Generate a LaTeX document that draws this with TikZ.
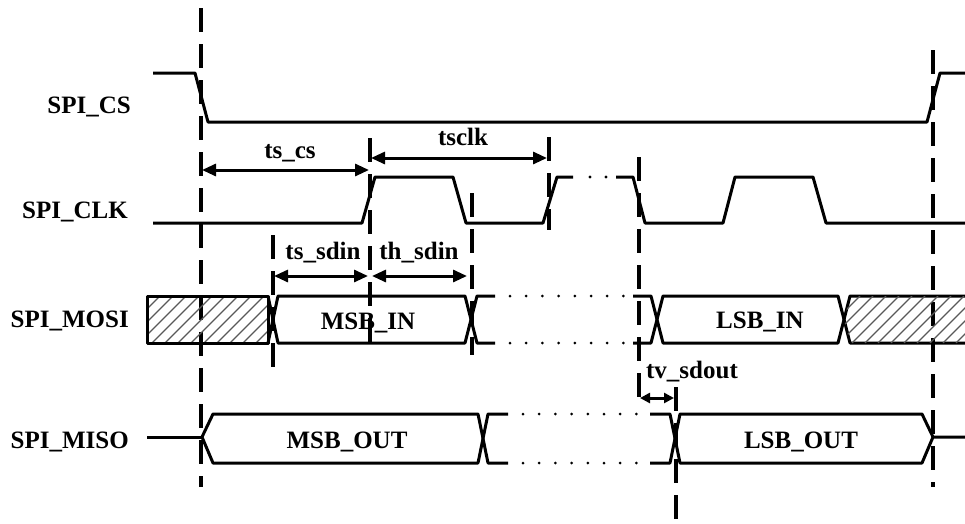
\documentclass[tikz,border=0pt]{standalone}
\usepackage{fontspec}
\setmainfont{Liberation Serif}
\usetikzlibrary{arrows.meta}
\begin{document}
\begin{tikzpicture}[x=1pt,y=-1pt,
  sig/.style={line width=3pt, line join=round},
  vdash/.style={line width=3.2pt, dash pattern=on 24pt off 12pt},
  dim/.style={line width=3pt, {Triangle[length=14pt,width=12pt]}-{Triangle[length=14pt,width=12pt]}},
  dimsmall/.style={line width=3pt, {Triangle[length=10pt,width=10pt]}-{Triangle[length=10pt,width=10pt]}},
  lbl/.style={font=\fontsize{25}{30}\selectfont\bfseries, inner sep=0pt, anchor=base},
  sname/.style={lbl, anchor=base east},
  dotline/.style={line width=3pt, dash pattern=on 0pt off 16.2pt, line cap=round},
  hatch/.style={line width=1.3pt, black!65}]
\useasboundingbox (0,0) rectangle (965,523);

% signal names
\node[sname] (ncs)   at (131,113) {SPI\_CS};
\node[sname] (nclk)  at (128,218) {SPI\_CLK};
\node[sname] (nmosi) at (129,327) {SPI\_MOSI};
\node[sname] (nmiso) at (129,448) {SPI\_MISO};

% vertical dashed reference lines
\draw[vdash] (201,8) -- (201,487);
\draw[vdash] (933,50) -- (933,487);
\draw[vdash] (370,138) -- (370,352);
\draw[vdash] (549,137) -- (549,230);
\draw[vdash] (472,193) -- (472,355);
\draw[vdash] (273,235) -- (273,370);
\draw[vdash] (639,157) -- (639,408);
\draw[vdash] (676,387) -- (676,523);

% SPI_CS
\draw[sig] (153,73) -- (195,73) -- (208,122) -- (927,122) -- (940,73) -- (965,73);

% SPI_CLK
\draw[sig] (153,223) -- (362,223) -- (375,177) -- (453,177) -- (466,223) -- (543,223) -- (557,177) -- (573,177);
\fill (590,177) circle (1.6);
\fill (606,177) circle (1.6);
\draw[sig] (616,177) -- (633,177) -- (645,223) -- (723,223) -- (735,177) -- (813,177) -- (826,223) -- (965,223);

% SPI_MOSI
\begin{scope}
  \clip (147,296) rectangle (268,343);
  \foreach \i in {0,...,14} {
    \draw[hatch] (100+13*\i,343) -- (147+13*\i,296);
  }
\end{scope}
\draw[sig] (147,296) rectangle (268,343);
\draw[sig] (268,343) -- (278,296) -- (465,296) -- (477,343) -- (495,343);
\draw[sig] (268,296) -- (278,343) -- (465,343) -- (477,296) -- (495,296);
\draw[dotline] (510,296) -- (625,296);
\draw[dotline] (510,343) -- (625,343);
\draw[sig] (633,296) -- (651,296) -- (663,343) -- (838,343) -- (850,296) -- (965,296);
\draw[sig] (633,343) -- (651,343) -- (663,296) -- (838,296) -- (850,343) -- (965,343);
\begin{scope}
  \clip (844,320) -- (850,296) -- (965,296) -- (965,343) -- (850,343) -- cycle;
  \foreach \i in {0,...,14} {
    \draw[hatch] (800+13*\i,343) -- (847+13*\i,296);
  }
\end{scope}
\node[lbl] (msbin) at (368,329) {MSB\_IN};
\node[lbl] (lsbin) at (760,328) {LSB\_IN};

% SPI_MISO
\draw[sig] (147,437) -- (202,437);
\draw[sig] (202,437) -- (213,414) -- (478,414) -- (488,463) -- (508,463);
\draw[sig] (202,437) -- (213,463) -- (478,463) -- (488,414) -- (508,414);
\draw[dotline] (523,414) -- (638,414);
\draw[dotline] (523,463) -- (638,463);
\draw[sig] (650,414) -- (670,414) -- (680,463) -- (922,463) -- (933,437) -- (965,437);
\draw[sig] (650,463) -- (670,463) -- (680,414) -- (922,414) -- (933,437);
\node[lbl] (msbout) at (347,448) {MSB\_OUT};
\node[lbl] (lsbout) at (801,448) {LSB\_OUT};

% timing dimensions
\coordinate (a1) at (202,170); \coordinate (a2) at (369,170);
\draw[dim] (a1) -- (a2);
\node[lbl] (tscs) at (290,158) {ts\_cs};
\coordinate (b1) at (371,158); \coordinate (b2) at (547,158);
\draw[dim] (b1) -- (b2);
\node[lbl] (tsclk) at (463,145) {tsclk};
\coordinate (c1) at (274,276); \coordinate (c2) at (368,276);
\draw[dim] (c1) -- (c2);
\node[lbl] (tssdin) at (323,259) {ts\_sdin};
\coordinate (d1) at (372,276); \coordinate (d2) at (467,276);
\draw[dim] (d1) -- (d2);
\node[lbl] (thsdin) at (419,259) {th\_sdin};
\coordinate (e1) at (640,398); \coordinate (e2) at (674,398);
\draw[dimsmall] (e1) -- (e2);
\node[lbl] (tvsdout) at (692,378) {tv\_sdout};
\end{tikzpicture}
\end{document}
